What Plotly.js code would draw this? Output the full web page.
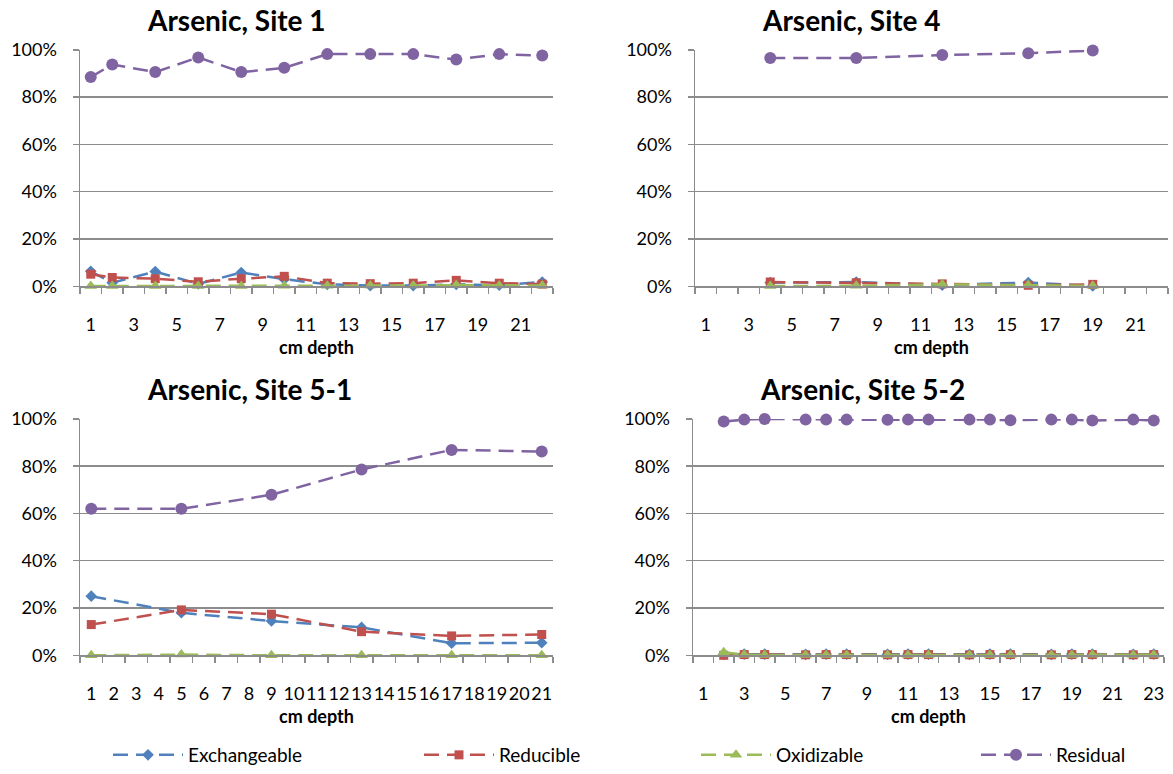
<!DOCTYPE html>
<html>
<head>
<meta charset="utf-8">
<script src="https://cdn.plot.ly/plotly-3.0.1.min.js"></script>
<style>
  html, body { margin: 0; padding: 0; background: #ffffff; }
  #chart { width: 1173px; height: 774px; }
</style>
</head>
<body>
<div id="chart"></div>
<script>
// ---------------- data (percent of total arsenic) ----------------
const seriesNames = ["Exchangeable", "Reducible", "Oxidizable", "Residual"];

// Site 1
const site1Depth = [1, 2, 4, 6, 8, 10, 12, 14, 16, 18, 20, 22];
const site1Exch  = [6.3, 1.5, 6.2, 1.0, 5.8, 3.0, 0.8, 0.3, 0.3, 0.8, 0.5, 1.8];
const site1Red   = [5.1, 3.7, 3.2, 1.9, 3.2, 4.2, 1.3, 1.1, 1.3, 2.5, 1.3, 0.9];
const site1Oxi   = [0.1, 0.1, 0.1, 0.1, 0.1, 0.2, 0.2, 0.3, 0.3, 0.5, 0.3, 0.3];
const site1Res   = [88.5, 93.8, 90.6, 96.8, 90.6, 92.4, 98.2, 98.2, 98.2, 95.9, 98.2, 97.6];

// Site 4
const site4Depth = [4, 8, 12, 16, 19];
const site4Exch  = [1.5, 1.8, 0.5, 1.6, 0.1];
const site4Red   = [1.8, 1.5, 1.0, 0.4, 0.8];
const site4Oxi   = [0.1, 0.2, 0.8, 0.5, 0.2];
const site4Res   = [96.6, 96.6, 97.8, 98.6, 99.7];

// Site 5-1
const site51Depth = [1, 5, 9, 13, 17, 21];
const site51Exch  = [25.0, 18.0, 14.5, 11.8, 5.1, 5.3];
const site51Red   = [13.0, 19.2, 17.4, 10.0, 8.2, 8.8];
const site51Oxi   = [0.0, 0.3, 0.0, 0.0, 0.0, 0.0];
const site51Res   = [62.0, 62.0, 67.9, 78.6, 86.9, 86.2];

// Site 5-2
const site52Depth = [2, 3, 4, 6, 7, 8, 10, 11, 12, 14, 15, 16, 18, 19, 20, 22, 23];
const site52Exch  = [0.4, 0.5, 0.5, 0.4, 0.5, 0.5, 0.4, 0.5, 0.5, 0.4, 0.5, 0.5, 0.4, 0.5, 0.5, 0.4, 0.5];
const site52Red   = [0.0, 0.3, 0.3, 0.2, 0.3, 0.3, 0.2, 0.3, 0.3, 0.2, 0.3, 0.3, 0.2, 0.3, 0.3, 0.2, 0.3];
const site52Oxi   = [1.3, 0.2, 0.1, 0.1, 0.1, 0.1, 0.1, 0.1, 0.1, 0.1, 0.1, 0.1, 0.1, 0.1, 0.2, 0.1, 0.2];
const site52Res   = [98.9, 99.7, 100.0, 99.7, 99.7, 99.7, 99.6, 99.7, 99.7, 99.7, 99.7, 99.4, 99.7, 99.7, 99.3, 99.7, 99.3];

const siteTitles = ["Arsenic, Site 1", "Arsenic, Site 4", "Arsenic, Site 5-1", "Arsenic, Site 5-2"];
const siteCategoryCounts = [22, 22, 21, 23];
const siteLabelSteps = [2, 2, 1, 2];
const xAxisTitle = "cm depth";

// ---------------- styling ----------------
const W = 1173, H = 774;
const FONT = "Lato, 'Open Sans', Arial, sans-serif";
const GRID = "#8c8c8c";
const colors  = ["#4F81BD", "#C0504D", "#9BBB59", "#8064A2"];
const symbols = ["diamond", "square", "triangle-up", "circle"];
const msizes  = [9, 9, 11, 12];

// plot boxes in pixels: [left, right, top, bottom]
const boxes = [
  [80, 553, 50, 287],
  [695, 1168, 50, 287],
  [80, 553, 420, 657],
  [693, 1164, 420, 657]
];
const titleCenters = [[236, 20], [851, 20], [249, 390], [862, 390]];

const sites = [
  [site1Depth, [site1Exch, site1Red, site1Oxi, site1Res]],
  [site4Depth, [site4Exch, site4Red, site4Oxi, site4Res]],
  [site51Depth, [site51Exch, site51Red, site51Oxi, site51Res]],
  [site52Depth, [site52Exch, site52Red, site52Oxi, site52Res]]
];

const legendNames = ["legend", "legend2", "legend3", "legend4"];
const legendTextStart = [188, 499, 776, 1056];

const traces = [];
sites.forEach((site, si) => {
  const depth = site[0];
  site[1].forEach((vals, k) => {
    traces.push({
      type: "scatter",
      mode: "lines+markers",
      x: depth,
      y: vals,
      name: seriesNames[k],
      xaxis: si === 0 ? "x" : "x" + (si + 1),
      yaxis: si === 0 ? "y" : "y" + (si + 1),
      line: { color: colors[k], width: 2.5, dash: "15px,8px" },
      marker: { color: colors[k], symbol: symbols[k], size: msizes[k] },
      cliponaxis: false,
      showlegend: si === 0,
      legend: legendNames[k],
      hoverinfo: "x+y+name"
    });
  });
});

const layout = {
  width: W, height: H,
  margin: { l: 0, r: 0, t: 0, b: 0 },
  paper_bgcolor: "#ffffff",
  plot_bgcolor: "#ffffff",
  font: { family: FONT, color: "#000000", size: 18 },
  annotations: []
};

boxes.forEach((b, i) => {
  const sfx = i === 0 ? "" : String(i + 1);
  const n = siteCategoryCounts[i];
  layout["xaxis" + sfx] = {
    domain: [b[0] / W, b[1] / W],
    anchor: "y" + sfx,
    range: [0.5, n + 0.5],
    tickmode: "linear", tick0: 1, dtick: siteLabelSteps[i],
    ticks: "outside", ticklen: 22, tickcolor: "rgba(0,0,0,0)",
    tickangle: 0,
    tickfont: { size: 18, color: "#000" },
    showgrid: false, zeroline: false,
    showline: true, linecolor: GRID, linewidth: 1.5,
    minor: { ticks: "outside", tick0: 0.5, dtick: 1, ticklen: 6, tickcolor: GRID, tickwidth: 1.5, showgrid: false },
    fixedrange: true
  };
  layout["yaxis" + sfx] = {
    domain: [1 - b[3] / H, 1 - b[2] / H],
    anchor: "x" + sfx,
    range: [0, 100],
    tickmode: "linear", tick0: 0, dtick: 20,
    ticksuffix: "%",
    ticks: "outside", ticklen: 6, tickcolor: GRID, tickwidth: 1.5,
    ticklabelstandoff: 12,
    tickfont: { size: 18, color: "#000" },
    showgrid: true, gridcolor: GRID, gridwidth: 1.5,
    zeroline: false,
    showline: true, linecolor: GRID, linewidth: 1.5,
    fixedrange: true
  };
  layout.annotations.push({
    xref: "paper", yref: "paper",
    x: titleCenters[i][0] / W, y: 1 - titleCenters[i][1] / H,
    xanchor: "center", yanchor: "middle",
    text: "<b>" + siteTitles[i] + "</b>",
    showarrow: false,
    font: { family: FONT, size: 28, color: "#000" }
  });
  layout.annotations.push({
    xref: "paper", yref: "paper",
    x: ((b[0] + b[1]) / 2) / W, y: 1 - (b[3] + 61) / H,
    xanchor: "center", yanchor: "middle",
    text: "<b>" + xAxisTitle + "</b>",
    showarrow: false,
    font: { family: FONT, size: 18, color: "#000" }
  });
});

legendNames.forEach((ln, k) => {
  layout[ln] = {
    x: (legendTextStart[k] - 80) / W,
    y: 1 - 757 / H,
    xanchor: "left", yanchor: "middle",
    orientation: "h",
    bgcolor: "rgba(0,0,0,0)",
    itemwidth: 70,
    font: { family: FONT, size: 19, color: "#000" }
  };
});

Plotly.newPlot("chart", traces, layout, { displayModeBar: false, staticPlot: true });
</script>
</body>
</html>
